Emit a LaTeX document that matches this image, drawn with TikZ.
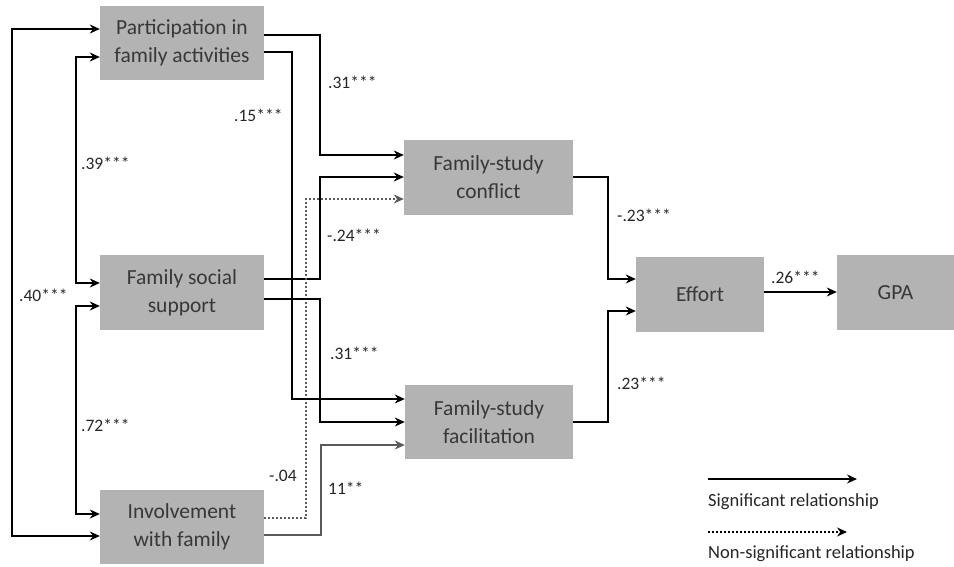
\documentclass[tikz,border=0pt]{standalone}
\usepackage{fontspec}
\setmainfont{Carlito}
\usetikzlibrary{arrows.meta,calc}
\definecolor{boxgray}{HTML}{B3B3B3}
\definecolor{boxtext}{HTML}{383838}
\definecolor{linegray}{HTML}{5A5A5A}
\tikzset{
  varbox/.style={fill=boxgray, draw=none, text=boxtext, align=center,
    font=\fontsize{21.5}{28}\selectfont, inner sep=0pt},
  coef/.style={anchor=west, inner sep=0pt, text=black!85,
    font=\fontsize{17.5}{20}\selectfont},
  arr/.style={line width=1.2pt, -{Stealth[length=10pt,width=9pt]}},
  darr/.style={line width=1.2pt, {Stealth[length=10pt,width=9pt]}-{Stealth[length=10pt,width=9pt]}},
  grayarr/.style={arr, draw=linegray},
  nsarr/.style={arr, draw=linegray, dash pattern=on 2pt off 2pt},
  legtext/.style={anchor=west, inner sep=0pt, text=black!85,
    font=\fontsize{18.5}{20}\selectfont}
}
\begin{document}
\begin{tikzpicture}[x=1pt,y=-1pt]
\useasboundingbox (0,0) rectangle (954,566);

% variables
\node[varbox, minimum width=164pt, minimum height=74pt] (part) at (182,43) {Participation in\\family activities};
\node[varbox, minimum width=164pt, minimum height=75pt] (fss)  at (182,292.5) {Family social\\support};
\node[varbox, minimum width=164pt, minimum height=74pt] (inv)  at (182,527) {Involvement\\with family};
\node[varbox, minimum width=169pt, minimum height=75pt] (fsc)  at (488.5,177.5) {Family-study\\conflict};
\node[varbox, minimum width=168pt, minimum height=74pt] (fsf)  at (489,422) {Family-study\\facilitation};
\node[varbox, minimum width=128pt, minimum height=75pt] (eff)  at (700,294.5) {Effort};
\node[varbox, minimum width=117pt, minimum height=75pt] (gpa)  at (895.5,292.5) {GPA};

% correlations among the predictors
\draw[darr] (inv.west |- 0,536) -| (12,29) -- (part.west |- 0,29);
\draw[darr] (part.west |- 0,57) -| (76,283) -- (fss.west |- 0,283);
\draw[darr] (fss.west |- 0,306) -| (76,514) -- (inv.west |- 0,514);

% paths to family-study conflict
\draw[arr] (part.east |- 0,35) -| (320,155) -- (fsc.west |- 0,155);
\draw[arr] (fss.east |- 0,279) -| (320,177) -- (fsc.west |- 0,177);
\draw[nsarr] (inv.east |- 0,518) -| (306,199) -- (fsc.west |- 0,199);

% paths to family-study facilitation
\draw[arr] (part.east |- 0,52) -| (292,399) -- (fsf.west |- 0,399);
\draw[arr] (fss.east |- 0,299) -| (320,422) -- (fsf.west |- 0,422);
\draw[grayarr] (inv.east |- 0,535) -| (321,445) -- (fsf.west |- 0,445);

% mediators to effort, effort to GPA
\draw[arr] (fsc.east |- 0,177) -| (608,279) -- (eff.west |- 0,279);
\draw[arr] (fsf.east |- 0,422) -| (608,311) -- (eff.west |- 0,311);
\draw[arr] (eff.east |- 0,292) -- (gpa.west |- 0,292);

% coefficients
\node[coef] (c40)  at (19,295)  {.40***};
\node[coef] (c39)  at (81,163)  {.39***};
\node[coef] (c72)  at (81,425)  {.72***};
\node[coef] (c31a) at (328,82)  {.31***};
\node[coef] (c15)  at (234,115) {.15***};
\node[coef] (c24)  at (327,235) {-.24***};
\node[coef] (c31b) at (330,353) {.31***};
\node[coef] (c04)  at (269,476) {-.04};
\node[coef] (c11)  at (328,488) {11**};
\node[coef] (c23a) at (617,215) {-.23***};
\node[coef] (c23b) at (617,383) {.23***};
\node[coef] (c26)  at (771,277) {.26***};

% legend
\coordinate (sigA) at (708,479);
\coordinate (sigB) at (857,479);
\coordinate (nsA)  at (708,532);
\coordinate (nsB)  at (847,532);
\draw[arr] (sigA) -- (sigB);
\draw[arr, dash pattern=on 2pt off 2pt] (nsA) -- (nsB);
\node[legtext] (sigtxt) at (708,502) {Significant relationship};
\node[legtext] (nstxt)  at (708,554) {Non-significant relationship};
\end{tikzpicture}
\end{document}
